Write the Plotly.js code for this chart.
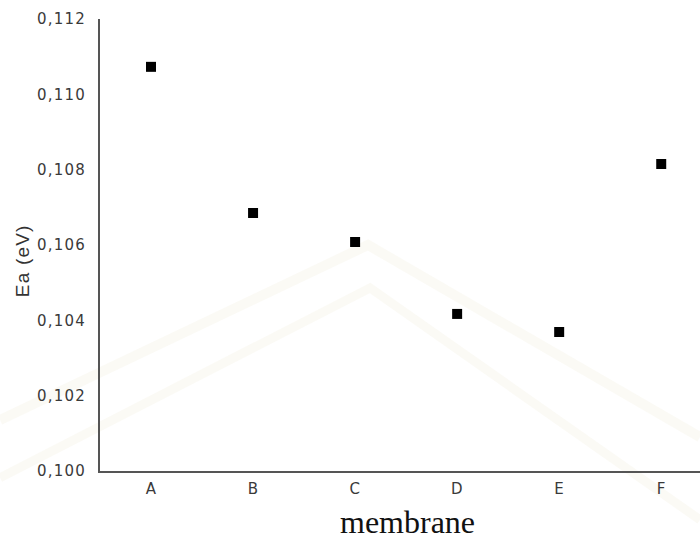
<!DOCTYPE html>
<html>
<head>
<meta charset="utf-8">
<script src="https://cdn.plot.ly/plotly-3.0.1.min.js"></script>
<style>
html,body{margin:0;padding:0;background:#fff;}
#chart{width:700px;height:539px;}
.ytick text{letter-spacing:1.2px;}
.xtick text{letter-spacing:0.5px;}
g.annotation[data-index="1"] text{letter-spacing:1.2px;}
</style>
</head>
<body>
<div id="chart"></div>
<script>
const membranes = ["A", "B", "C", "D", "E", "F"];
const eaValues = [0.11073, 0.10685, 0.10608, 0.10417, 0.10369, 0.10815];
const yTicks = [0.100, 0.102, 0.104, 0.106, 0.108, 0.110, 0.112];
const yTickLabels = ["0,100", "0,102", "0,104", "0,106", "0,108", "0,110", "0,112"];

const trace = {
  x: membranes.map((m, i) => i),
  y: eaValues,
  mode: "markers",
  type: "scatter",
  marker: {symbol: "square", size: 10, color: "#000"},
  showlegend: false
};

const wm = "rgba(236,232,210,0.22)";
const layout = {
  width: 700, height: 539,
  margin: {l: 100, r: 0, t: 19, b: 68},
  paper_bgcolor: "#fff", plot_bgcolor: "rgba(0,0,0,0)",
  font: {family: "DejaVu Sans, Arial, sans-serif", color: "#3a3a3a"},
  xaxis: {
    range: [-0.5, 5.38],
    tickvals: membranes.map((m, i) => i),
    ticktext: membranes,
    showgrid: false, zeroline: false,
    showline: true, linecolor: "#555", linewidth: 2,
    ticks: "", tickfont: {size: 15, color: "#3a3a3a"},
    ticklabelstandoff: 3
  },
  yaxis: {
    range: [0.1, 0.112],
    tickvals: yTicks, ticktext: yTickLabels,
    showgrid: false, zeroline: false,
    showline: true, linecolor: "#555", linewidth: 2,
    ticks: "", tickfont: {size: 15, color: "#3a3a3a"},
    ticklabelstandoff: 9
  },
  shapes: [
    {type: "path", xref: "paper", yref: "paper", layer: "below",
     path: "M -0.1667 0.113 L 0.4467 0.500 L 1.0 0.075",
     line: {color: wm, width: 10}},
    {type: "path", xref: "paper", yref: "paper", layer: "below",
     path: "M -0.1667 -0.015 L 0.45 0.405 L 1.0 -0.108",
     line: {color: wm, width: 9}}
  ],
  annotations: [
    {text: "membrane", xref: "paper", yref: "paper", x: 0.512, y: -0.113,
     xanchor: "center", yanchor: "middle", showarrow: false,
     font: {family: "Times New Roman, Liberation Serif, serif", size: 32, color: "#111"}},
    {text: "Ea (eV)", xref: "paper", yref: "paper", x: -0.128, y: 0.465,
     xanchor: "center", yanchor: "middle", textangle: -90, showarrow: false,
     font: {family: "Arial, Liberation Sans, sans-serif", size: 19, color: "#333"}}
  ]
};

Plotly.newPlot("chart", [trace], layout, {displayModeBar: false, staticPlot: true});
</script>
</body>
</html>
